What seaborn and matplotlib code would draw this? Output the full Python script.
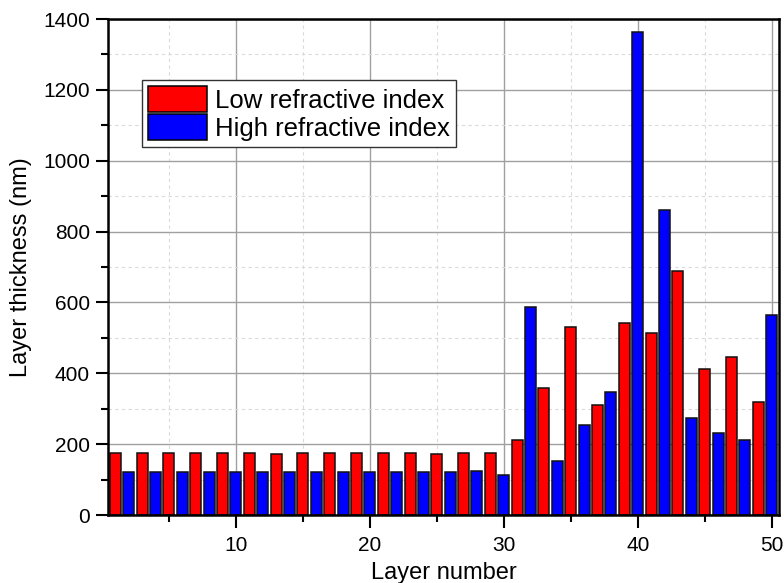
import matplotlib
matplotlib.use("Agg")
import matplotlib.pyplot as plt
from matplotlib.patches import Patch
from matplotlib.ticker import MultipleLocator
import seaborn as sns
import pandas as pd

low_layers = list(range(1, 50, 2))
low_values = [174, 174, 174, 174, 174, 174, 172, 176, 176, 176, 174, 174, 172,
              174, 176, 211, 358, 530, 310, 543, 514, 689, 411, 446, 320]
high_layers = list(range(2, 51, 2))
high_values = [121, 121, 121, 121, 121, 121, 121, 121, 121, 122, 121, 121, 122,
               125, 113, 588, 153, 254, 347, 1362, 860, 273, 231, 211, 564]
series_names = ["Low refractive index", "High refractive index"]
colors = {"Low refractive index": "#ff0000", "High refractive index": "#0000ff"}

df = pd.concat([
    pd.DataFrame({"layer": low_layers, "thickness": low_values, "type": series_names[0]}),
    pd.DataFrame({"layer": high_layers, "thickness": high_values, "type": series_names[1]}),
]).sort_values("layer")

sns.set_theme(style="white")
plt.rcParams["font.family"] = ["Liberation Sans", "DejaVu Sans"]
plt.rcParams["text.color"] = "black"

fig = plt.figure(figsize=(7.84, 5.83), dpi=100)
ax = fig.add_axes([0.1378, 0.1166, 0.8558, 0.8508])

ax.set_axisbelow(True)

sns.barplot(data=df, x="layer", y="thickness", hue="type", palette=colors,
            native_scale=True, dodge=False, width=0.82, edgecolor="#111111",
            linewidth=1.1, saturation=1, ax=ax, legend=False)

ax.set_xlim(0.45, 50.55)
ax.set_ylim(0, 1400)
ax.xaxis.set_major_locator(MultipleLocator(10))
ax.xaxis.set_minor_locator(MultipleLocator(5))
ax.yaxis.set_major_locator(MultipleLocator(200))
ax.yaxis.set_minor_locator(MultipleLocator(100))
ax.set_xticks([10, 20, 30, 40, 50])
ax.set_xticklabels(["10", "20", "30", "40", "50"])
ax.grid(True, which="major", color="#a0a0a0", linewidth=1.0, linestyle="-")
ax.grid(True, which="minor", color="#dadada", linewidth=0.8, linestyle=(0, (3, 3)))

for s in ax.spines.values():
    s.set_visible(True)
    s.set_color("black")
    s.set_linewidth(1.8)

ax.tick_params(axis="both", which="major", direction="out", length=9, width=1.5,
               labelsize=15, color="black", labelcolor="black", pad=4,
               bottom=True, left=True)
ax.tick_params(axis="both", which="minor", direction="out", length=5, width=1.5,
               color="black", bottom=True, left=True)
ax.tick_params(axis="x", which="major", pad=6)

ax.set_xlabel("Layer number", fontsize=17, labelpad=5, color="black")
ax.set_ylabel("Layer thickness (nm)", fontsize=17, labelpad=8, color="black")

handles = [Patch(facecolor=colors[n], edgecolor="black", linewidth=1.1) for n in series_names]
leg = ax.legend(handles, series_names, loc="upper left",
                bbox_to_anchor=(0.05, 0.878), fontsize=18.5, frameon=True,
                fancybox=False, edgecolor="#333333", framealpha=1,
                handlelength=2.3, handleheight=1.2, handletextpad=0.3,
                labelspacing=0.05, borderpad=0.25, borderaxespad=0,
                labelcolor="black")
leg.get_frame().set_linewidth(1.0)

fig.savefig("out.png", dpi=100)
